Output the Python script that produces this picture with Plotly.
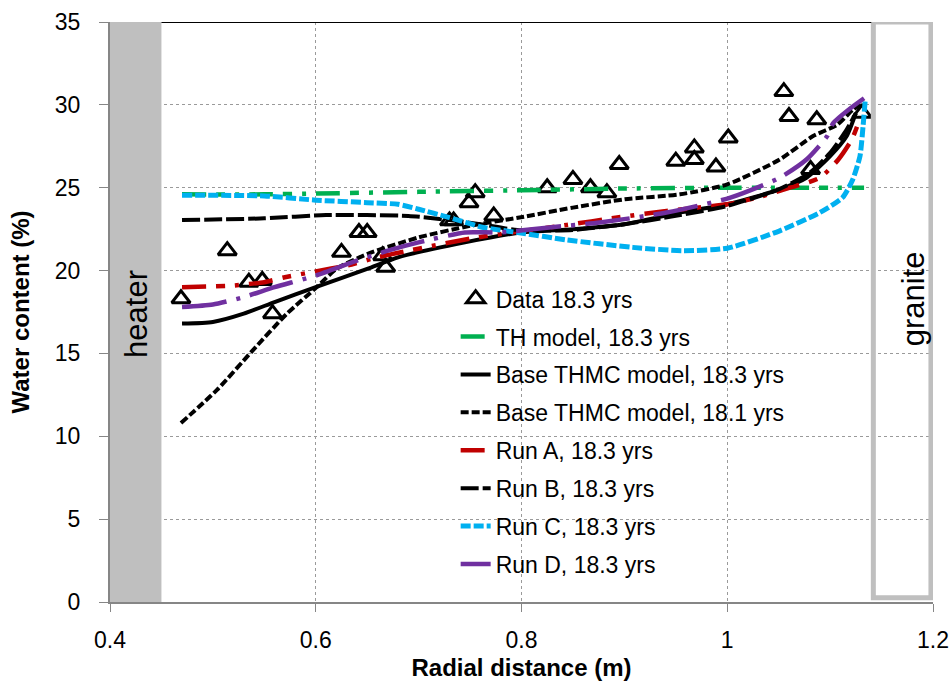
import plotly.graph_objects as go

# Measured water content, 18.3 years
data_x = [0.469, 0.514, 0.535, 0.548, 0.558, 0.625, 0.642, 0.650, 0.665, 0.668,
          0.730, 0.734, 0.749, 0.755, 0.773, 0.825, 0.850, 0.867, 0.883, 0.895,
          0.950, 0.968, 0.968, 0.989, 1.001, 1.055, 1.060, 1.081, 1.087, 1.131]
data_y = [18.3, 21.2, 19.3, 19.4, 17.4, 21.1, 22.3, 22.3, 20.9, 20.2,
          23.0, 23.0, 24.1, 24.7, 23.3, 25.0, 25.5, 25.0, 24.7, 26.4,
          26.6, 27.4, 26.7, 26.25, 28.0, 30.8, 29.3, 26.1, 29.1, 29.5]

# Model profiles
th_x = [0.47, 0.55, 0.60, 0.70, 0.80, 0.90, 1.00, 1.10, 1.133]
th_y = [24.6, 24.6, 24.65, 24.75, 24.85, 24.95, 25.0, 25.0, 25.0]

base183_x = [0.47, 0.50, 0.53, 0.56, 0.60, 0.65, 0.68, 0.745, 0.80, 0.85, 0.90, 0.954,
             1.00, 1.051, 1.077, 1.10, 1.116, 1.125]
base183_y = [16.8, 16.9, 17.4, 18.1, 19.0, 20.1, 20.8, 21.7, 22.3, 22.5, 22.8, 23.5,
             24.0, 24.9, 25.6, 26.9, 28.1, 29.5]

base181_x = [0.469, 0.504, 0.539, 0.572, 0.601, 0.62, 0.65, 0.70, 0.75, 0.798, 0.85,
             0.90, 0.954, 1.00, 1.051, 1.083, 1.107, 1.122, 1.13]
base181_y = [10.8, 12.8, 15.2, 17.4, 19.0, 20.1, 21.0, 22.0, 22.7, 23.2, 23.8,
             24.3, 24.6, 25.2, 26.7, 28.1, 28.8, 29.7, 30.0]

runA_x = [0.47, 0.52, 0.55, 0.57, 0.60, 0.63, 0.66, 0.69, 0.757, 0.844, 0.893, 0.941,
          1.00, 1.029, 1.061, 1.09, 1.108, 1.121, 1.128]
runA_y = [19.0, 19.1, 19.3, 19.6, 19.95, 20.3, 20.8, 21.2, 22.0, 22.75, 23.2, 23.6,
          24.0, 24.4, 25.0, 25.6, 26.7, 27.9, 29.0]

runB_x = [0.47, 0.55, 0.61, 0.69, 0.73, 0.76, 0.796, 0.85, 0.90, 0.95, 1.00, 1.05,
          1.08, 1.10, 1.115, 1.125]
runB_y = [23.05, 23.15, 23.35, 23.3, 23.05, 22.8, 22.45, 22.45, 22.8, 23.3, 23.9, 24.9,
          25.9, 27.1, 28.4, 29.5]

runC_x = [0.47, 0.55, 0.60, 0.65, 0.68, 0.70, 0.73, 0.763, 0.796, 0.844, 0.908, 0.957,
          1.00, 1.051, 1.09, 1.112, 1.122, 1.129, 1.132, 1.134]
runC_y = [24.55, 24.5, 24.25, 24.1, 24.0, 23.7, 23.2, 22.6, 22.3, 21.85, 21.4, 21.2,
          21.35, 22.4, 23.5, 24.4, 25.5, 26.9, 28.7, 30.2]

runD_x = [0.47, 0.50, 0.53, 0.56, 0.60, 0.64, 0.67, 0.70, 0.745, 0.779, 0.827, 0.876,
          0.941, 1.003, 1.051, 1.077, 1.097, 1.103, 1.122, 1.133]
runD_y = [17.8, 17.95, 18.4, 19.0, 19.7, 20.6, 21.2, 21.7, 22.3, 22.3, 22.6, 22.9,
          23.5, 24.4, 25.6, 26.7, 28.1, 28.9, 29.9, 30.4]

FONT = "Liberation Sans, Arial, sans-serif"

fig = go.Figure()

fig.add_trace(go.Scatter(
    x=data_x, y=data_y, mode="markers", name="Data 18.3 yrs", legendgroup="g0",
    marker=dict(symbol="triangle-up-open", size=16, color="black",
                line=dict(width=3, color="black"))))

series = [
    ("TH model, 18.3 yrs", th_x, th_y, "#00b050", 4.5, "24px,10px,9px,10px,4px,10px"),
    ("Base THMC model, 18.3 yrs", base183_x, base183_y, "black", 4, "solid"),
    ("Base THMC model, 18.1 yrs", base181_x, base181_y, "black", 4, "8px,3px"),
    ("Run A, 18.3 yrs", runA_x, runA_y, "#c00000", 4.5, "24px,10px,9px,10px,4px,10px"),
    ("Run B, 18.3 yrs", runB_x, runB_y, "black", 4, "18px,4px"),
    ("Run C, 18.3 yrs", runC_x, runC_y, "#00b0f0", 5, "10px,3px"),
    ("Run D, 18.3 yrs", runD_x, runD_y, "#7030a0", 4.5, "45px,10px,4px,10px"),
]
for i, (name, xs, ys, color, w, dash) in enumerate(series, start=1):
    fig.add_trace(go.Scatter(
        x=xs, y=ys, mode="lines", name=name, legendgroup=f"g{i}",
        line=dict(color=color, width=w, dash=dash, shape="spline", smoothing=0.6)))

# Heater (filled) and granite (outlined) zones at the model boundaries
fig.add_shape(type="rect", x0=0.4, x1=0.45, y0=0, y1=35, xref="x", yref="y",
              fillcolor="#bfbfbf", line=dict(width=0), layer="between")
fig.add_shape(type="rect", x0=1.142, x1=1.198, y0=0.25, y1=35, xref="x", yref="y",
              fillcolor="rgba(0,0,0,0)", line=dict(color="#bfbfbf", width=5), layer="above")
fig.add_shape(type="line", x0=0.45, x1=1.14, y0=35, y1=35, xref="x", yref="y",
              line=dict(color="black", width=2), layer="above")

fig.add_annotation(x=0.4255, y=17.4, xref="x", yref="y", text="heater", textangle=-90,
                   showarrow=False, font=dict(family=FONT, size=31, color="black"))
fig.add_annotation(x=1.181, y=18.3, xref="x", yref="y", text="granite", textangle=-90,
                   showarrow=False, font=dict(family=FONT, size=31, color="black"))

fig.update_layout(
    width=951, height=687,
    margin=dict(l=110, r=18, t=22, b=85),
    paper_bgcolor="white", plot_bgcolor="white",
    font=dict(family=FONT, size=23, color="black"),
    showlegend=True,
    legend=dict(x=0.42, y=0.56, xanchor="left", yanchor="top",
                bgcolor="rgba(255,255,255,0)", font=dict(family=FONT, size=23),
                tracegroupgap=5, itemwidth=30),
    xaxis=dict(range=[0.4, 1.2], tickvals=[0.4, 0.6, 0.8, 1.0, 1.2],
               ticktext=["0.4", "0.6", "0.8", "1", "1.2"],
               showgrid=True, gridcolor="#9a9a9a", griddash="dot", gridwidth=1,
               showline=True, linecolor="#868686", linewidth=2,
               ticks="outside", ticklen=8, tickcolor="#868686", tickwidth=1,
               ticklabelstandoff=8, automargin=False,
               zeroline=False, tickfont=dict(size=23),
               title=dict(text="<b>Radial distance (m)</b>", font=dict(size=24), standoff=8)),
    yaxis=dict(range=[0, 35], dtick=5,
               showgrid=True, gridcolor="#9a9a9a", griddash="dot", gridwidth=1,
               showline=True, linecolor="#868686", linewidth=2,
               ticks="outside", ticklen=9, tickcolor="#868686", tickwidth=1,
               ticklabelstandoff=14, automargin=False,
               zeroline=False, tickfont=dict(size=23),
               title=dict(text="<b>Water content (%)</b>", font=dict(size=24), standoff=18)),
)

fig.write_html("out.html")
